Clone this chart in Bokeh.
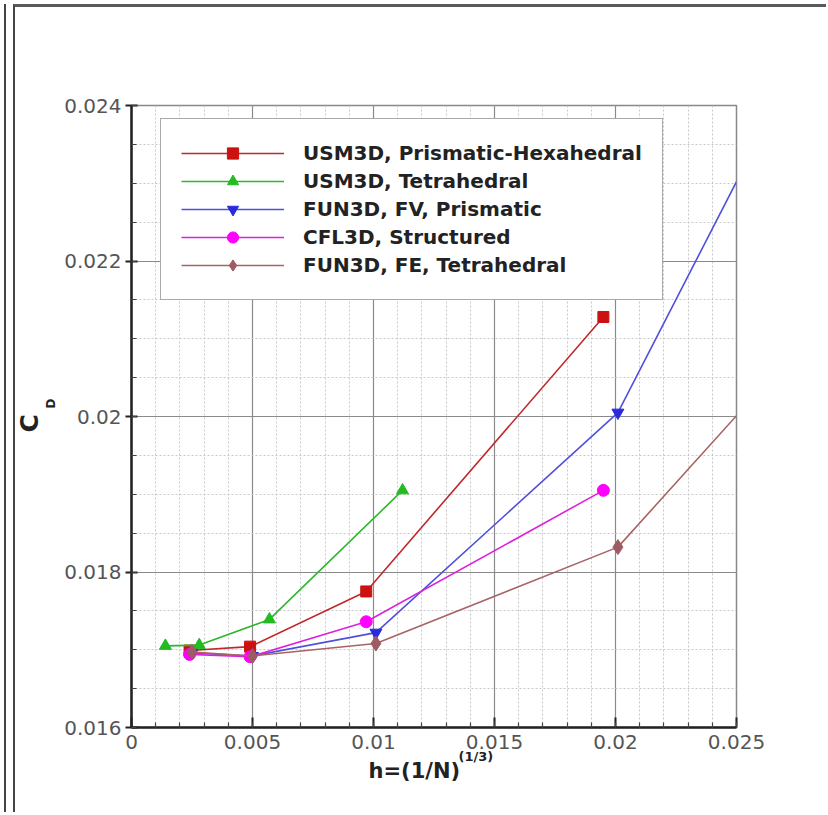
from bokeh.plotting import figure
from bokeh.models import (FixedTicker, PrintfTickFormatter, Legend, LegendItem,
                          Title, Range1d)
from bokeh.embed import file_html
from bokeh.resources import INLINE

# ---- data ----
labels = ["USM3D, Prismatic-Hexahedral", "USM3D, Tetrahedral", "FUN3D, FV, Prismatic",
          "CFL3D, Structured", "FUN3D, FE, Tetrahedral"]

usm3d_ph_h = [0.0024, 0.0049, 0.0097, 0.0195]
usm3d_ph_cd = [0.01699, 0.01704, 0.01775, 0.02128]

usm3d_tet_h = [0.0014, 0.0028, 0.0057, 0.0112]
usm3d_tet_cd = [0.01705, 0.01706, 0.01739, 0.01905]

fun3d_fv_h = [0.0025, 0.0050, 0.0101, 0.0201, 0.025]
fun3d_fv_cd = [0.01696, 0.01692, 0.01722, 0.02005, 0.02302]

cfl3d_h = [0.0024, 0.0049, 0.0097, 0.0195]
cfl3d_cd = [0.01694, 0.01691, 0.01736, 0.01905]

fun3d_fe_h = [0.0025, 0.0050, 0.0101, 0.0201, 0.025]
fun3d_fe_cd = [0.01697, 0.01692, 0.01708, 0.01832, 0.02001]

x_ticks = [0, 0.005, 0.01, 0.015, 0.02, 0.025]
x_minor = [i * 0.001 for i in range(26)]
y_ticks = [0.016, 0.018, 0.02, 0.022, 0.024]
y_minor = [0.016 + i * 0.0005 for i in range(17)]

# ---- figure ----
p = figure(width=813, height=808, output_backend="svg", toolbar_location=None,
           x_range=Range1d(0, 0.025), y_range=Range1d(0.016, 0.024),
           min_border_left=116, min_border_right=92, min_border_top=98, min_border_bottom=88)
p.styles = {"margin-left": "13px", "margin-top": "4px",
            "border-left": "2px solid #444444", "border-top": "3px solid #5a5a5a",
            "box-shadow": "-7px 0 0 0 #ffffff, -9px 0 0 0 #444444"}
p.background_fill_color = "white"
p.border_fill_color = "white"
p.outline_line_color = "#888888"
p.outline_line_width = 1.5

xt = FixedTicker(ticks=x_ticks, minor_ticks=x_minor)
yt = FixedTicker(ticks=y_ticks, minor_ticks=y_minor)
p.xaxis.ticker = xt
p.yaxis.ticker = yt
p.xgrid.ticker = xt
p.ygrid.ticker = yt
p.xaxis.formatter = PrintfTickFormatter(format="%g")
p.yaxis.formatter = PrintfTickFormatter(format="%g")

for g in (p.xgrid, p.ygrid):
    g.grid_line_color = "#8a8a8a"
    g.grid_line_width = 1.2
    g.minor_grid_line_color = "#c8c8c8"
    g.minor_grid_line_dash = "2 2"
    g.minor_grid_line_width = 1

for ax in (p.xaxis, p.yaxis):
    ax.axis_line_color = "#222222"
    ax.axis_line_width = 2.5
    ax.major_tick_line_color = "#222222"
    ax.major_tick_line_width = 2
    ax.minor_tick_line_color = "#444444"
    ax.minor_tick_line_width = 1.2
    ax.major_label_text_font = "DejaVu Sans"
    ax.major_label_text_font_size = "20px"
    ax.major_label_text_color = "#555555"

p.xaxis.major_tick_in = 10
p.xaxis.major_tick_out = 0
p.xaxis.minor_tick_in = 5
p.xaxis.minor_tick_out = 0
p.xaxis.major_label_standoff = 7
p.yaxis.major_tick_in = 6
p.yaxis.major_tick_out = 6
p.yaxis.minor_tick_in = 5
p.yaxis.minor_tick_out = 0
p.yaxis.major_label_standoff = 4

series = [
    (usm3d_ph_h, usm3d_ph_cd, "#c0282a", "#cc1111", "square", 11, 4),
    (usm3d_tet_h, usm3d_tet_cd, "#2cb82c", "#22bb22", "triangle", 12, 4),
    (fun3d_fv_h, fun3d_fv_cd, "#5050dd", "#2a2add", "inverted_triangle", 12, 4),
    (cfl3d_h, cfl3d_cd, "#dd22dd", "#ff00ff", "circle", 12, 4),
    (fun3d_fe_h, fun3d_fe_cd, "#a86464", "#a05a64", "diamond", 15, 4),
]

items = []
for (xs, ys, lc, mc, mk, sz, nm), lab in zip(series, labels):
    lr = p.line(xs, ys, line_color=lc, line_width=1.6)
    sr = p.scatter(xs[:nm], ys[:nm], marker=mk, size=sz, fill_color=mc, line_color=mc)
    items.append(LegendItem(label=lab, renderers=[lr, sr]))

legend = Legend(items=items, location=(29, 427), orientation="vertical")
legend.label_text_font = "DejaVu Sans"
legend.label_text_font_style = "bold"
legend.label_text_font_size = "20px"
legend.label_text_color = "#222222"
legend.glyph_width = 103
legend.glyph_height = 28
legend.label_height = 28
legend.label_standoff = 19
legend.spacing = 0
legend.padding = 20
legend.margin = 0
legend.border_line_color = "#555555"
legend.border_line_width = 1.5
legend.background_fill_color = "white"
legend.background_fill_alpha = 1
p.add_layout(legend, "center")

# axis titles built from titles placed beside the axes (superscript / subscript parts)
p.add_layout(Title(text="(1/3)", align="left", offset=327, standoff=-10,
                   text_font="DejaVu Sans", text_font_style="bold", text_font_size="13px",
                   text_color="#222222"), "below")
p.add_layout(Title(text="h=(1/N)", align="left", offset=237, standoff=-4,
                   text_font="DejaVu Sans", text_font_style="bold", text_font_size="21px",
                   text_color="#222222"), "below")
p.add_layout(Title(text="D", align="left", offset=319, standoff=8,
                   text_font="DejaVu Sans", text_font_style="bold", text_font_size="12px",
                   text_color="#222222"), "left")
p.add_layout(Title(text="C", align="left", offset=295, standoff=-12,
                   text_font="DejaVu Sans", text_font_style="bold", text_font_size="25px",
                   text_color="#222222"), "left")

open("out.html", "w").write(file_html(p, INLINE))
